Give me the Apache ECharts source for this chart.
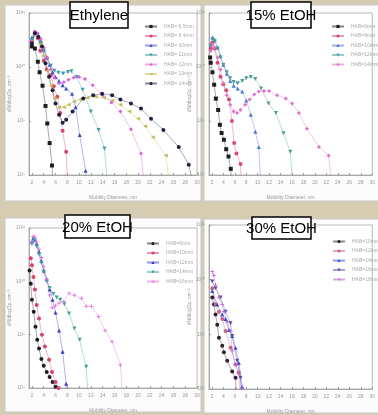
<!DOCTYPE html>
<html>
<head>
<meta charset="utf-8">
<script src="https://cdn.jsdelivr.net/npm/echarts@6/dist/echarts.min.js"></script>
<style>
  html, body { margin: 0; padding: 0; background: #d6ccb2; }
  #chart { width: 378px; height: 415px; }
</style>
</head>
<body>
<div id="chart"></div>
<script>
// x tick labels (mobility diameter, nm)
const xTicks = [2, 4, 6, 8, 10, 12, 14, 16, 18, 20, 22, 24, 26, 28, 30];

// --- Ethylene --- (last point of each run sits below the axis: the line drops to it)
const ethNames = ['HAB= 6.5mm', 'HAB= 8.4mm', 'HAB= 10mm', 'HAB= 11mm', 'HAB= 12mm', 'HAB= 13mm', 'HAB= 14mm'];
const eth1 = [[2.0,2.4e10],[2.5,2.2e10],[3.0,1.25e10],[3.3,8e9],[3.8,4.5e9],[4.3,1.9e9],[4.6,9e8],[5.0,3.9e8],[5.4,1.5e8],[5.6,5e7]];
const eth2 = [[2.0,3.0e10],[2.5,4.2e10],[3.0,3.4e10],[3.4,2.0e10],[4.0,1.3e10],[4.5,9e9],[5.2,7e9],[5.7,4.4e9],[6.3,2.8e9],[6.8,1.4e9],[7.2,6.6e8],[7.8,2.7e8],[8.1,5e7]];
const eth3 = [[2.0,3.5e10],[2.5,4.6e10],[3.0,4.0e10],[3.5,3.0e10],[4.0,2.1e10],[4.5,1.5e10],[5.0,1.1e10],[5.5,8e9],[6.0,6.5e9],[6.6,5.5e9],[7.2,4.6e9],[7.8,4.0e9],[8.8,3.2e9],[9.4,1.8e9],[10.1,5.5e8],[11.1,1.2e8],[11.3,5e7]];
const eth4 = [[2.0,3.2e10],[2.5,4.0e10],[3.0,3.6e10],[3.5,2.8e10],[4.0,2.0e10],[4.6,1.4e10],[5.2,1.05e10],[5.8,8.5e9],[6.5,7.8e9],[7.3,7.6e9],[8.1,8.1e9],[8.7,8.3e9],[9.6,6.5e9],[10.6,3.8e9],[12.0,1.5e9],[13.3,6.8e8],[14.3,3.1e8],[14.9,5e7]];
const eth5 = [[2.0,3.0e10],[2.5,4.5e10],[3.0,4.2e10],[3.5,3.3e10],[4.0,2.3e10],[4.6,1.5e10],[5.2,9e9],[5.8,6.3e9],[6.6,5e9],[7.4,5.2e9],[8.2,5.8e9],[9.1,6.4e9],[10.0,6.5e9],[11.0,6e9],[12.3,4.6e9],[14.0,3.0e9],[15.5,2.2e9],[17.0,1.5e9],[18.8,7e8],[20.5,2.5e8],[21.2,5e7]];
const eth6 = [[2.0,2.8e10],[2.5,4.0e10],[3.0,3.6e10],[3.5,2.6e10],[4.0,1.6e10],[4.6,8.5e9],[5.2,4.5e9],[5.8,2.6e9],[6.6,1.8e9],[7.4,1.8e9],[8.2,2.0e9],[9.1,2.3e9],[10.2,2.5e9],[11.4,2.7e9],[12.8,2.8e9],[14.2,2.7e9],[15.6,2.4e9],[17.0,2.0e9],[18.5,1.5e9],[20.0,1.1e9],[21.2,8e8],[22.5,5e8],[24.7,2.3e8],[25.5,5e7]];
const eth7 = [[2.0,2.75e10],[2.5,4.2e10],[3.1,3.6e10],[3.7,2.4e10],[4.3,1.17e10],[4.9,6.6e9],[5.5,3.7e9],[6.0,2.1e9],[6.6,1.3e9],[7.2,9.3e8],[7.8,1.05e9],[8.9,1.5e9],[10.7,2.6e9],[12.4,3.0e9],[13.9,3.2e9],[15.6,3.0e9],[17.0,2.5e9],[18.8,2.1e9],[20.5,1.7e9],[22.2,1.1e9],[24.3,6.8e8],[26.9,3.3e8],[28.6,1.55e8],[29.6,5e7]];

// --- 15% EtOH ---
const e15Names = ['HAB=6mm', 'HAB=8mm', 'HAB=10mm', 'HAB=12mm', 'HAB=14mm'];
const e15a = [[1.7,1.5e10],[1.8,1.2e10],[2.1,8e9],[2.4,4.7e9],[2.7,2.6e9],[3.1,1.6e9],[3.4,8.5e8],[3.7,6e8],[4.1,4.5e8],[4.5,3e8],[4.9,2.2e8],[5.3,1.3e8],[5.5,5e7]];
const e15b = [[1.8,2.2e10],[2.1,2.8e10],[2.5,2.2e10],[3.0,1.2e10],[3.5,6.6e9],[4.0,4.8e9],[4.5,3.7e9],[5.0,2.5e9],[5.5,1e9],[5.9,3.9e8],[6.3,2.5e8],[7.0,1.6e8],[7.2,5e7]];
const e15c = [[1.8,2.6e10],[2.1,3.5e10],[2.5,3.2e10],[3.0,2.3e10],[3.5,1.6e10],[4.0,1.1e10],[4.6,7.5e9],[5.2,5.5e9],[5.8,4.5e9],[6.5,4e9],[7.3,3.5e9],[8.0,2.4e9],[8.8,1.3e9],[9.6,6.3e8],[10.2,3.3e8],[10.6,5e7]];
const e15d = [[1.8,2.5e10],[2.1,3.3e10],[2.5,3.0e10],[3.0,2.2e10],[3.5,1.5e10],[4.0,1.1e10],[4.6,8e9],[5.2,6.2e9],[5.8,5.3e9],[6.5,5e9],[7.3,5.5e9],[8.0,6.2e9],[8.8,6.5e9],[9.6,6e9],[10.6,4e9],[11.9,2.1e9],[13.2,1.4e9],[14.5,5.9e8],[15.7,2.7e8],[16.2,5e7]];
const e15e = [[1.8,2.0e10],[2.1,2.6e10],[2.5,2.3e10],[3.0,1.5e10],[3.5,9e9],[4.0,5e9],[4.6,3e9],[5.2,2e9],[5.8,1.5e9],[6.4,1.4e9],[7.0,1.6e9],[7.8,2.0e9],[8.6,2.5e9],[9.4,3.1e9],[10.2,3.5e9],[11.1,3.6e9],[12.0,3.6e9],[13.4,3.0e9],[14.9,2.6e9],[16.0,2.1e9],[17.2,1.4e9],[18.6,7.2e8],[20.7,3.3e8],[22.4,2.3e8],[23.0,5e7]];

// --- 20% EtOH ---
const e20Names = ['HAB=6mm', 'HAB=10mm', 'HAB=12mm', 'HAB=14mm', 'HAB=16mm'];
const e20a = [[1.6,1.6e10],[1.8,9e9],[2.0,4.5e9],[2.3,2.7e9],[2.6,1.4e9],[2.9,8e8],[3.2,5.5e8],[3.6,3.5e8],[4.0,2.6e8],[4.5,2e8],[5.0,1.6e8],[5.5,1.3e8],[6.0,1.05e8],[6.2,5e7]];
const e20b = [[1.8,2.7e10],[2.0,2e10],[2.25,1.2e10],[2.5,7e9],[2.8,3.6e9],[3.2,2e9],[3.7,1e9],[4.2,6e8],[4.9,3.4e8],[5.4,2e8],[6.0,1.3e8],[6.5,1e8],[6.7,5e7]];
const e20c = [[2.0,5.5e10],[2.25,6.5e10],[2.5,6e10],[2.8,5e10],[3.2,3.6e10],[3.6,2.4e10],[4.0,1.6e10],[4.5,1.1e10],[5.0,7e9],[5.5,4.5e9],[6.0,2.6e9],[6.6,1.2e9],[7.2,4.8e8],[7.8,1.2e8],[8.0,5e7]];
const e20d = [[2.0,5e10],[2.25,6.3e10],[2.5,5.8e10],[2.8,4.5e10],[3.2,3.2e10],[3.6,2.2e10],[4.0,1.5e10],[4.5,1e10],[5.0,7.5e9],[5.6,5.8e9],[6.2,5e9],[6.8,4.5e9],[7.5,3.7e9],[8.3,2.5e9],[9.2,1.3e9],[10.1,8e8],[11.2,2.5e8],[11.6,5e7]];
const e20e = [[2.0,5.5e10],[2.25,7e10],[2.5,6.6e10],[2.8,5.5e10],[3.2,4e10],[3.6,2.8e10],[4.0,1.9e10],[4.5,1.1e10],[5.0,5.5e9],[5.45,3.2e9],[6.0,3.5e9],[6.6,3.9e9],[7.4,4.2e9],[8.3,6e9],[9.2,5.5e9],[10.4,4.8e9],[11.2,3.4e9],[12.1,3.4e9],[13.3,2.2e9],[14.4,1.2e9],[15.6,7.4e8],[17.0,2.7e8],[17.5,5e7]];

// --- 30% EtOH ---
const e30Names = ['HAB=10mm', 'HAB=12mm', 'HAB=14mm', 'HAB=16mm', 'HAB=18mm'];
const e30a = [[2.07,4.7e9],[2.36,3.5e9],[2.65,2.3e9],[2.94,1.5e9],[3.23,8.7e8],[3.81,6.2e8],[4.1,4.7e8],[4.68,3.3e8],[5.55,2.1e8],[6.13,1.6e8],[6.4,5e7]];
const e30b = [[2.07,7e9],[2.65,3.5e9],[3.23,2.6e9],[3.81,1.9e9],[4.39,1.15e9],[5.26,5.7e8],[6.13,2.8e8],[6.71,2e8],[7.0,5e7]];
const e30c = [[2.07,6.2e9],[2.94,3.5e9],[3.81,2.3e9],[4.39,1.9e9],[4.97,1.2e9],[5.55,9.3e8],[6.13,5.7e8],[6.71,3e8],[7.29,1.1e8],[7.4,5e7]];
const e30d = [[2.07,9.3e9],[2.65,7e9],[3.52,4.7e9],[4.39,2.6e9],[5.26,1.6e9],[5.55,9.3e8],[6.42,3.3e8],[7.0,1.6e8],[7.2,5e7]];
const e30e = [[2.07,1.4e10],[2.36,1.2e10],[2.65,8e9],[3.23,4.7e9],[3.81,3.5e9],[4.1,2.6e9],[4.68,1.7e9],[5.26,1.15e9],[5.55,5e8],[6.13,2.8e8],[6.71,1.9e8],[7.29,1.07e8],[7.4,5e7]];

const downTri = 'path://M0,0L10,0L5,10Z';
const leftTri = 'path://M10,0L10,10L0,5Z';
const cross = 'path://M4,0H6V4H10V6H6V10H4V6H0V4H4Z';

const panels = [
  { key: 'a', title: 'Ethylene', names: ethNames, data: [eth1, eth2, eth3, eth4, eth5, eth6, eth7],
    colors: ['#1f1f1f', '#d8436a', '#3c4cc8', '#3f9aa6', '#d860d8', '#c4bb55', '#202040'],
    symbols: ['rect', 'circle', 'triangle', downTri, 'diamond', leftTri, 'circle'],
    grid: { left: 29, top: 13, width: 168, height: 162 }, bg: [5, 5, 196, 196],
    box: [70, 2, 58, 26], legend: { left: 139, top: 19 } },
  { key: 'b', title: '15% EtOH', names: e15Names, data: [e15a, e15b, e15c, e15d, e15e],
    colors: ['#1f1f1f', '#d84a70', '#4a7ad0', '#4a9a9a', '#e070c8'],
    symbols: ['rect', 'circle', 'triangle', downTri, 'diamond'],
    grid: { left: 209, top: 13, width: 168, height: 162 }, bg: [204, 5, 176, 196],
    box: [251, 2, 60, 26], legend: { left: 326, top: 19 } },
  { key: 'c', title: '20% EtOH', names: e20Names, data: [e20a, e20b, e20c, e20d, e20e],
    colors: ['#1f1f1f', '#d8436a', '#3a3ac8', '#40a0a0', '#e070e0'],
    symbols: ['circle', 'circle', 'triangle', downTri, cross],
    grid: { left: 29, top: 228, width: 168, height: 160 }, bg: [5, 218, 196, 194],
    box: [65, 215, 65, 23], legend: { left: 141, top: 236 } },
  { key: 'd', title: '30% EtOH', names: e30Names, data: [e30a, e30b, e30c, e30d, e30e],
    colors: ['#302030', '#d06080', '#3050d0', '#5050b0', '#c060d0'],
    symbols: ['circle', 'circle', 'triangle', downTri, cross],
    grid: { left: 209, top: 225, width: 168, height: 165 }, bg: [204, 219, 176, 194],
    box: [252, 217, 59, 22], legend: { left: 327, top: 234 } }
];

const sup = { '0': '⁰', '1': '¹', '2': '²', '3': '³', '4': '⁴', '5': '⁵', '6': '⁶', '7': '⁷', '8': '⁸', '9': '⁹' };
const powLabel = (v) => '10' + String(Math.round(Math.log10(v))).split('').map(c => sup[c]).join('');

const labelStyle = { fontSize: 5, color: '#999', fontFamily: 'Liberation Sans' };

const grids = [], xAxes = [], yAxes = [], series = [], legends = [], graphics = [];

panels.forEach((p, i) => {
  grids.push(Object.assign({ show: true, backgroundColor: '#fff', borderColor: '#aaa', borderWidth: 0.8 }, p.grid));
  xAxes.push({
    type: 'value', gridIndex: i, min: 1.5, max: 30,
    name: 'Mobility Diameter, nm', nameLocation: 'middle', nameGap: 20,
    nameTextStyle: labelStyle,
    axisLine: { lineStyle: { color: '#999', width: 0.8 } },
    axisTick: { inside: true, length: 2, customValues: xTicks, lineStyle: { color: '#999' } },
    axisLabel: Object.assign({ customValues: xTicks, margin: 5 }, labelStyle),
    splitLine: { show: false }
  });
  yAxes.push({
    type: 'log', gridIndex: i, min: 1e8, max: 1e11, logBase: 10,
    name: 'dN/dlogDp, cm⁻³', nameLocation: 'middle', nameGap: 17,
    nameTextStyle: labelStyle,
    axisLine: { show: true, lineStyle: { color: '#999', width: 0.8 } },
    axisTick: { inside: true, length: 2, lineStyle: { color: '#999' } },
    minorTick: { show: true, length: 1, lineStyle: { color: '#bbb' } },
    axisLabel: Object.assign({ margin: 4, formatter: powLabel }, labelStyle),
    splitLine: { show: false }
  });
  p.data.forEach((d, j) => {
    series.push({
      name: p.key + '|' + p.names[j], type: 'line', xAxisIndex: i, yAxisIndex: i,
      data: d, symbol: p.symbols[j], symbolSize: 4, showSymbol: true, clip: true,
      itemStyle: { color: p.colors[j] },
      lineStyle: { color: p.colors[j], width: 0.7, opacity: 0.55 },
      emphasis: { disabled: true }, animation: false
    });
  });
  legends.push({
    data: p.names.map(n => p.key + '|' + n), orient: 'vertical',
    left: p.legend.left, top: p.legend.top,
    itemWidth: 12, itemHeight: 4, itemGap: 4.5,
    formatter: (n) => n.split('|')[1],
    textStyle: { fontSize: 5, color: '#aaa', fontFamily: 'Liberation Sans', padding: [0, 0, 0, 2] }
  });
  graphics.push({
    type: 'rect', z: -10, silent: true,
    shape: { x: p.bg[0], y: p.bg[1], width: p.bg[2], height: p.bg[3] },
    style: { fill: '#fcfcfc', stroke: '#c8c8c8', lineWidth: 1 }
  });
  graphics.push({
    type: 'rect', z: 100, silent: true,
    shape: { x: p.box[0], y: p.box[1], width: p.box[2], height: p.box[3] },
    style: { fill: '#fff', stroke: '#000', lineWidth: 1.5 }
  });
  graphics.push({
    type: 'text', z: 101, silent: true,
    x: p.box[0] + p.box[2] / 2, y: p.box[1] + p.box[3] / 2 + 1,
    style: { text: p.title, fill: '#000', font: '15px "Liberation Sans", Arial', align: 'center', verticalAlign: 'middle' }
  });
});

const chart = echarts.init(document.getElementById('chart'), null, { renderer: 'canvas' });
chart.setOption({
  backgroundColor: '#d6ccb2',
  animation: false,
  grid: grids,
  xAxis: xAxes,
  yAxis: yAxes,
  legend: legends,
  series: series,
  graphic: graphics
});
</script>
</body>
</html>
